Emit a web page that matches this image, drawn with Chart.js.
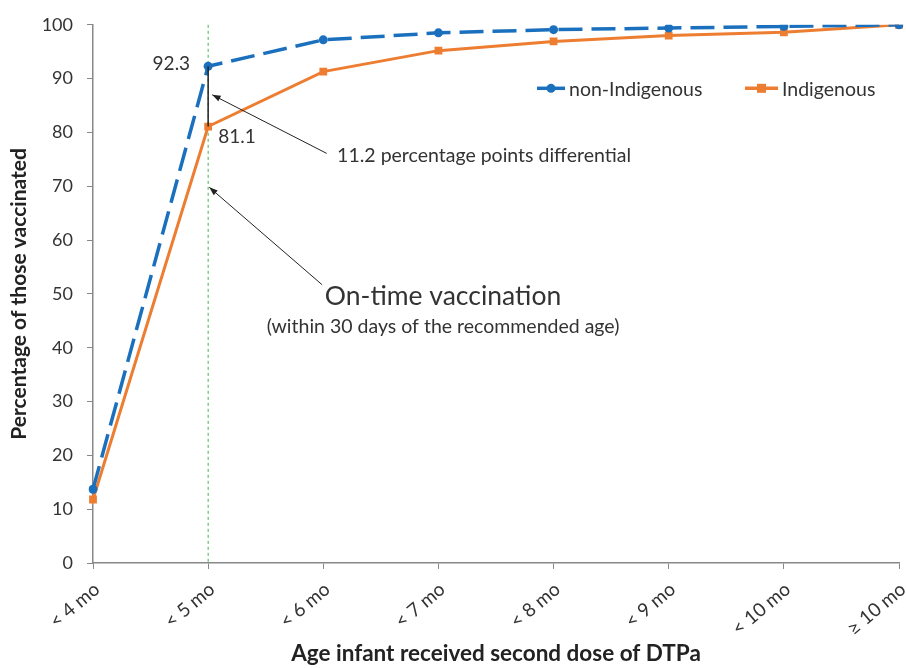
<!DOCTYPE html>
<html>
<head>
<meta charset="utf-8">
<script src="https://cdn.jsdelivr.net/npm/chart.js@4"></script>
<style>
  html, body { margin: 0; padding: 0; background: #fff; }
  #wrap { width: 906px; height: 668px; }
</style>
</head>
<body>
<div id="wrap"><canvas id="chart" width="906" height="668"></canvas></div>
<script>
const ageLabels = ['< 4 mo', '< 5 mo', '< 6 mo', '< 7 mo', '< 8 mo', '< 9 mo', '< 10 mo', '\u2265 10 mo'];
const nonIndigenous = [13.7, 92.3, 97.2, 98.5, 99.1, 99.4, 99.7, 100];
const indigenous = [11.8, 81.1, 91.3, 95.2, 96.9, 98.0, 98.6, 100];

const blue = '#1b70be';
const orange = '#ed7d31';
const textColor = '#333333';
const font = 'Lato, "Noto Sans", sans-serif';

function arrow(ctx, x1, y1, x2, y2) {
    const a = Math.atan2(y2 - y1, x2 - x1);
    ctx.beginPath();
    ctx.moveTo(x1, y1);
    ctx.lineTo(x2, y2);
    ctx.stroke();
    ctx.beginPath();
    ctx.moveTo(x2, y2);
    ctx.lineTo(x2 - 9 * Math.cos(a - 0.35), y2 - 9 * Math.sin(a - 0.35));
    ctx.lineTo(x2 - 9 * Math.cos(a + 0.35), y2 - 9 * Math.sin(a + 0.35));
    ctx.closePath();
    ctx.fill();
}

const annotations = {
    id: 'annotations',
    beforeDatasetsDraw(chart) {
        const {ctx, scales: {x, y}} = chart;
        const xOn = x.getPixelForValue(1);
        ctx.save();
        // on-time reference line
        ctx.strokeStyle = '#3cb54a';
        ctx.lineWidth = 1;
        ctx.setLineDash([3, 3]);
        ctx.beginPath();
        ctx.moveTo(xOn, y.getPixelForValue(100));
        ctx.lineTo(xOn, y.getPixelForValue(0));
        ctx.stroke();
        ctx.restore();
    },
    afterDatasetsDraw(chart) {
        const {ctx, chartArea, scales: {x, y}} = chart;
        const xOn = x.getPixelForValue(1);
        ctx.save();
        // differential bar
        ctx.strokeStyle = '#222';
        ctx.lineWidth = 1.5;
        ctx.beginPath();
        ctx.moveTo(xOn, y.getPixelForValue(nonIndigenous[1]));
        ctx.lineTo(xOn, y.getPixelForValue(indigenous[1]));
        ctx.stroke();

        ctx.fillStyle = textColor;
        ctx.font = '19px ' + font;
        ctx.textBaseline = 'middle';
        ctx.textAlign = 'right';
        ctx.fillText(nonIndigenous[1].toFixed(1), xOn - 18, y.getPixelForValue(nonIndigenous[1]) - 2);
        ctx.textAlign = 'left';
        ctx.fillText(indigenous[1].toFixed(1), xOn + 10, y.getPixelForValue(indigenous[1]) + 10);

        // arrows
        ctx.strokeStyle = '#222';
        ctx.fillStyle = '#222';
        ctx.lineWidth = 1;
        arrow(ctx, x.getPixelForValue(2.03), y.getPixelForValue(76.1), x.getPixelForValue(1.035), y.getPixelForValue(87.0));
        arrow(ctx, x.getPixelForValue(1.99), y.getPixelForValue(51.7), x.getPixelForValue(1.01), y.getPixelForValue(69.8));

        ctx.fillStyle = textColor;
        ctx.textAlign = 'left';
        ctx.font = '19.5px ' + font;
        ctx.fillText('11.2 percentage points differential', x.getPixelForValue(2.12), y.getPixelForValue(75.6));
        ctx.textAlign = 'center';
        ctx.font = '26.5px ' + font;
        ctx.fillText('On-time vaccination', x.getPixelForValue(3.04), y.getPixelForValue(49.6));
        ctx.font = '19.5px ' + font;
        ctx.fillText('(within 30 days of the recommended age)', x.getPixelForValue(3.04), y.getPixelForValue(43.9));

        // legend
        const ly = y.getPixelForValue(88.2);
        const items = [
            {label: 'non-Indigenous', color: blue, x0: 537, x1: 565, style: 'circle'},
            {label: 'Indigenous', color: orange, x0: 745, x1: 778, style: 'rect'}
        ];
        ctx.font = '19.5px ' + font;
        ctx.textAlign = 'left';
        items.forEach(it => {
            ctx.strokeStyle = it.color;
            ctx.fillStyle = it.color;
            ctx.lineWidth = 3.5;
            ctx.beginPath();
            ctx.moveTo(it.x0, ly);
            ctx.lineTo(it.x1, ly);
            ctx.stroke();
            const cx = (it.x0 + it.x1) / 2;
            if (it.style === 'circle') {
                ctx.beginPath();
                ctx.arc(cx, ly, 4.5, 0, Math.PI * 2);
                ctx.fill();
            } else {
                ctx.fillRect(cx - 4.5, ly - 4.5, 9, 9);
            }
            ctx.fillStyle = textColor;
            ctx.fillText(it.label, it.x1 + 4, ly + 1);
        });

        // y axis title
        ctx.save();
        ctx.translate(19, (chartArea.top + chartArea.bottom) / 2);
        ctx.rotate(-Math.PI / 2);
        ctx.textAlign = 'center';
        ctx.font = 'bold 21px ' + font;
        ctx.fillStyle = '#222';
        ctx.fillText('Percentage of those vaccinated', 0, 0);
        ctx.restore();
        ctx.restore();
    }
};

new Chart(document.getElementById('chart'), {
    type: 'line',
    data: {
        labels: ageLabels,
        datasets: [{
            label: 'non-Indigenous',
            data: nonIndigenous,
            borderColor: blue,
            backgroundColor: blue,
            borderWidth: 3.5,
            borderDash: [24, 9],
            pointStyle: 'circle',
            pointRadius: 4.5,
            pointBorderWidth: 0,
            tension: 0
        }, {
            label: 'Indigenous',
            data: indigenous,
            borderColor: orange,
            backgroundColor: orange,
            borderWidth: 3,
            pointStyle: 'rect',
            pointRadius: 5.5,
            pointBorderWidth: 0,
            tension: 0
        }]
    },
    options: {
        responsive: false,
        animation: false,
        layout: {padding: {left: 0, right: 7, top: 23, bottom: 0}},
        plugins: {
            legend: {display: false},
            tooltip: {enabled: false}
        },
        scales: {
            x: {
                offset: false,
                grid: {display: true, drawOnChartArea: false, drawTicks: true, tickLength: 6, color: '#888'},
                border: {display: true, color: '#888', width: 1.5},
                ticks: {
                    color: textColor,
                    font: {family: font, size: 19},
                    minRotation: 40,
                    maxRotation: 40,
                    autoSkip: false,
                    padding: 9,
                    labelOffset: 4
                },
                title: {
                    display: true,
                    text: 'Age infant received second dose of DTPa',
                    color: '#222',
                    font: {family: font, size: 22.5, weight: 'bold'},
                    padding: {top: 2, bottom: 1}
                },
                afterFit(scale) {
                    scale.height = 105;
                    scale.paddingLeft = 0;
                    scale.paddingRight = 0;
                }
            },
            y: {
                min: 0,
                max: 100,
                ticks: {
                    stepSize: 10,
                    color: textColor,
                    font: {family: font, size: 18},
                    padding: 14
                },
                grid: {display: true, drawOnChartArea: false, drawTicks: true, tickLength: 6, color: '#888'},
                border: {display: true, color: '#888', width: 1.5},
                afterFit(scale) { scale.width = 93; }
            }
        }
    },
    plugins: [annotations]
});
</script>
</body>
</html>
